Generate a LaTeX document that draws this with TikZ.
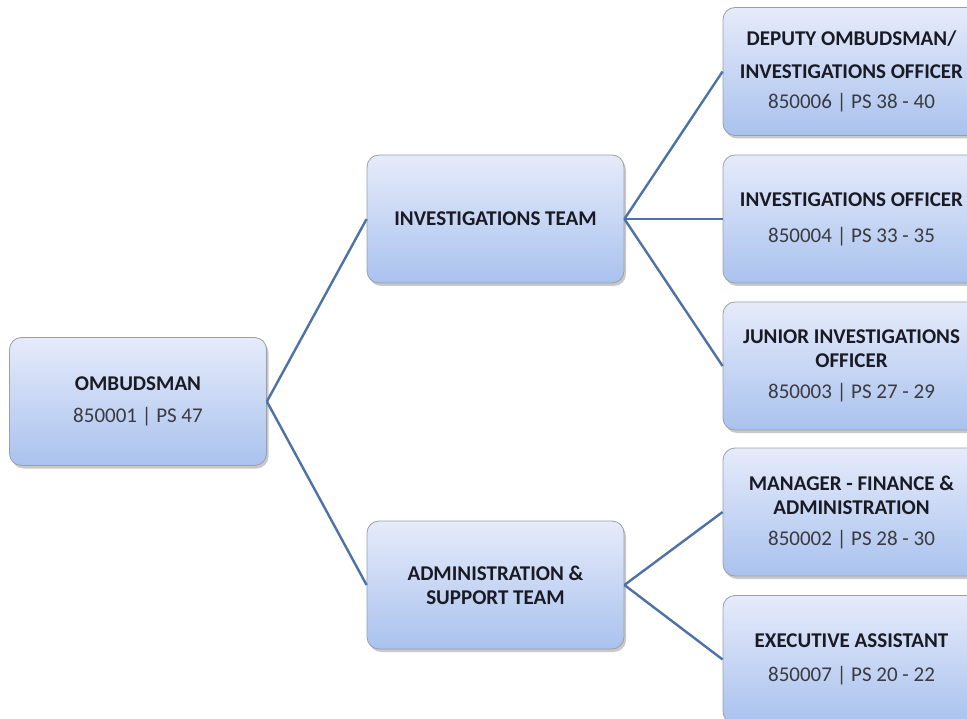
\documentclass[tikz,border=0pt]{standalone}
\usepackage{fontspec}
\setmainfont{Carlito}
\usetikzlibrary{shadows}
\definecolor{linec}{HTML}{4F72A6}
\definecolor{boxtop}{HTML}{E6EBFA}
\definecolor{boxbot}{HTML}{A9C2EE}
\definecolor{boxedge}{HTML}{9A9FA8}
\definecolor{titlec}{HTML}{1A1A24}
\definecolor{numc}{HTML}{3A3A40}
\tikzset{
  orgbox/.style={rectangle, rounded corners=12pt, draw=boxedge, line width=0.8pt,
    top color=boxtop, bottom color=boxbot, minimum width=257pt, minimum height=128pt,
    inner sep=0pt, align=center, font=\fontsize{21}{24}\selectfont,
    drop shadow={shadow xshift=2pt, shadow yshift=-3pt, opacity=0.35, fill=black!60}},
  conn/.style={draw=linec, line width=2.4pt}
}
\newcommand{\ttl}[1]{{\bfseries\color{titlec}#1}}
\newcommand{\num}[1]{{\color{numc}#1}}
\begin{document}
\begin{tikzpicture}[x=1pt,y=-1pt]
\useasboundingbox (0,0) rectangle (967,719);
\clip (0,0) rectangle (967,719);
\fill[white] (0,0) rectangle (967,719);
\node[orgbox] (omb) at (138,401.5) {\ttl{OMBUDSMAN}\\[8pt]\num{850001 | PS 47}};
\node[orgbox] (inv) at (495.5,219) {\ttl{INVESTIGATIONS TEAM}};
\node[orgbox] (adm) at (495.5,585) {\ttl{ADMINISTRATION \&}\\\ttl{SUPPORT TEAM}};
\node[orgbox] (dep) at (851.5,71.5) {\ttl{DEPUTY OMBUDSMAN/}\\[9pt]\ttl{INVESTIGATIONS OFFICER}\\[6pt]\num{850006 | PS 38 - 40}};
\node[orgbox] (io) at (851.5,219) {\ttl{INVESTIGATIONS OFFICER}\\[12pt]\num{850004 | PS 33 - 35}};
\node[orgbox] (jio) at (851.5,366) {\ttl{JUNIOR INVESTIGATIONS}\\\ttl{OFFICER}\\[7pt]\num{850003 | PS 27 - 29}};
\node[orgbox] (mgr) at (851.5,512) {\ttl{MANAGER - FINANCE \&}\\\ttl{ADMINISTRATION}\\[7pt]\num{850002 | PS 28 - 30}};
\node[orgbox] (ea) at (851.5,659.5) {\ttl{EXECUTIVE ASSISTANT}\\[10pt]\num{850007 | PS 20 - 22}};
\draw[conn] (omb.east) -- (inv.west);
\draw[conn] (omb.east) -- (adm.west);
\draw[conn] (inv.east) -- (dep.west);
\draw[conn] (inv.east) -- (io.west);
\draw[conn] (inv.east) -- (jio.west);
\draw[conn] (adm.east) -- (mgr.west);
\draw[conn] (adm.east) -- (ea.west);
\end{tikzpicture}
\end{document}
